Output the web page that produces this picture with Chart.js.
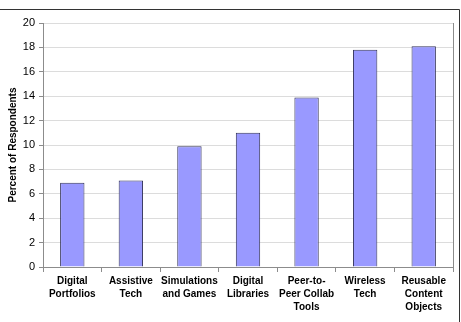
<!DOCTYPE html>
<html>
<head>
<meta charset="utf-8">
<script src="https://cdn.jsdelivr.net/npm/chart.js@4/dist/chart.umd.min.js"></script>
<style>
  html, body { margin: 0; padding: 0; background: #fff; }
  #wrap { width: 461px; height: 322px; }
</style>
</head>
<body>
<div id="wrap"><canvas id="techChart" width="461" height="322"></canvas></div>
<script>
const categories = [
  ["Digital", "Portfolios"],
  ["Assistive", "Tech"],
  ["Simulations", "and Games"],
  ["Digital", "Libraries"],
  ["Peer-to-", "Peer Collab", "Tools"],
  ["Wireless", "Tech"],
  ["Reusable", "Content", "Objects"]
];
const percents = [6.9, 7.1, 9.9, 11.0, 13.9, 17.8, 18.1];
const yTicks = [0, 2, 4, 6, 8, 10, 12, 14, 16, 18, 20];

// frame lines + plot border, like the excel chart
const framePlugin = {
  id: "frame",
  beforeDraw(chart) {
    const ctx = chart.ctx;
    const a = chart.chartArea;
    ctx.save();
    ctx.strokeStyle = "#8c8c8c";
    ctx.lineWidth = 1;
    ctx.strokeRect(Math.round(a.left) + 0.5, Math.round(a.top) + 0.5,
      Math.round(a.right - a.left), Math.round(a.bottom - a.top));
    ctx.strokeStyle = "#333";
    ctx.beginPath();
    ctx.moveTo(0, 9.5);
    ctx.lineTo(459.5, 9.5);
    ctx.lineTo(459.5, 322);
    ctx.stroke();
    ctx.restore();
  }
};

const ctx = document.getElementById("techChart").getContext("2d");
new Chart(ctx, {
  type: "bar",
  data: {
    labels: categories,
    datasets: [
      {
        label: "Percent of Respondents",
        data: percents,
        backgroundColor: "#9999ff",
        borderColor: "#33335a",
        borderWidth: 1,
        barPercentage: 0.8,
        categoryPercentage: 0.52
      }
    ]
  },
  options: {
    responsive: false,
    animation: false,
    layout: { padding: { top: 23, right: 8, left: 0, bottom: 0 } },
    plugins: {
      legend: { display: false },
      tooltip: { enabled: false }
    },
    scales: {
      x: {
        offset: true,
        grid: {
          offset: true,
          drawOnChartArea: false,
          tickLength: 5,
          color: "#8c8c8c"
        },
        border: { color: "#8c8c8c" },
        ticks: {
          color: "#000",
          padding: 3,
          maxRotation: 0,
          autoSkip: false,
          font: { family: "'Liberation Sans', Arial, sans-serif", size: 10, weight: "bold", lineHeight: 1.27 }
        },
        afterFit(scale) { scale.height = 55; }
      },
      y: {
        min: 0,
        max: 20,
        afterBuildTicks(scale) { scale.ticks = yTicks.map(v => ({ value: v })); },
        grid: { color: "#dcdcdc", tickColor: "#8c8c8c", tickLength: 4 },
        border: { color: "#8c8c8c" },
        ticks: {
          color: "#000",
          padding: 4,
          font: { family: "'Liberation Sans', Arial, sans-serif", size: 11 }
        },
        title: {
          display: true,
          text: "Percent of Respondents",
          color: "#000",
          padding: { top: 7, bottom: 2 },
          font: { family: "'Liberation Sans', Arial, sans-serif", size: 10, weight: "bold" }
        },
        afterFit(scale) { scale.width = 43; }
      }
    }
  },
  plugins: [framePlugin]
});
</script>
</body>
</html>
